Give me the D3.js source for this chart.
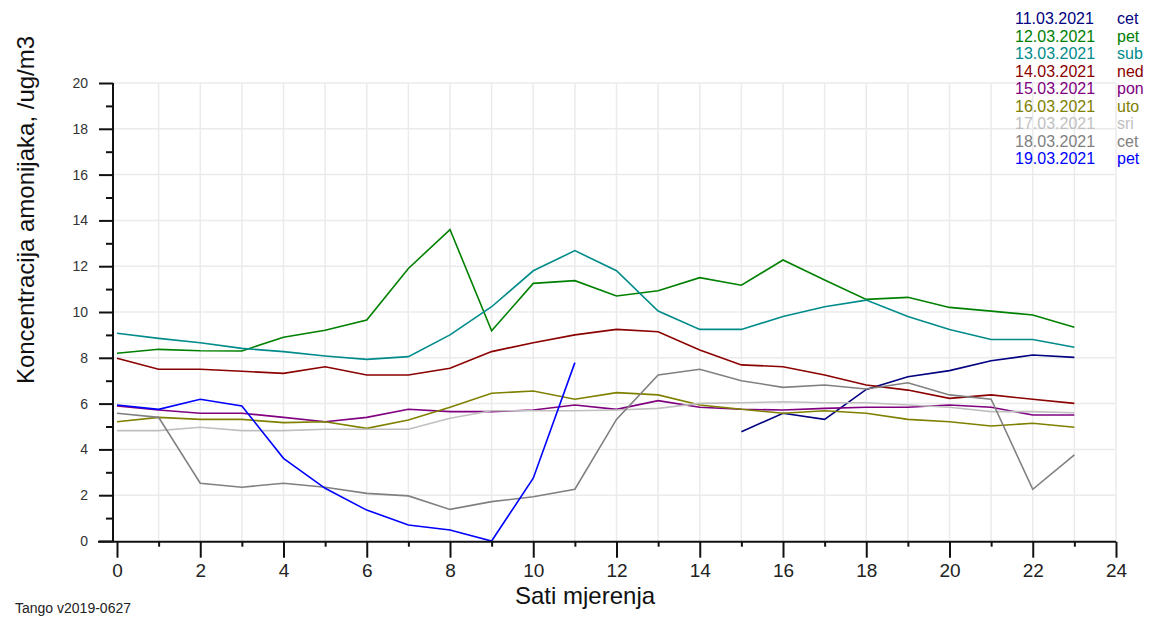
<!DOCTYPE html>
<html>
<head>
<meta charset="utf-8">
<script src="https://cdn.jsdelivr.net/npm/d3@7"></script>
<style>
  body { margin: 0; background: #fff; }
  svg { display: block; font-family: "Liberation Sans", Arial, sans-serif; }
</style>
</head>
<body>
<svg id="chart" width="1149" height="618"></svg>
<script>
// hours 0..23, concentration in ug/m3 (null = no measurement)
const hours = d3.range(0, 24)
const dates = ['11.03.2021', '12.03.2021', '13.03.2021', '14.03.2021', '15.03.2021', '16.03.2021', '17.03.2021', '18.03.2021', '19.03.2021']
const days = ['cet', 'pet', 'sub', 'ned', 'pon', 'uto', 'sri', 'cet', 'pet']
const colors = ['#000080', '#008000', '#008b8b', '#8b0000', '#800080', '#808000', '#c0c0c0', '#808080', '#0000ff']

const d1103 = [null, null, null, null, null, null, null, null, null, null, null, null, null, null, null,
  4.77, 5.58, 5.31, 6.62, 7.17, 7.44, 7.87, 8.12, 8.02]
const d1203 = [8.2, 8.37, 8.31, 8.3, 8.9, 9.2, 9.65, 11.9, 13.6, 9.18, 11.25, 11.37,
  10.7, 10.93, 11.5, 11.17, 12.27, 11.4, 10.55, 10.64, 10.2, 10.04, 9.87, 9.33]
const d1303 = [9.07, 8.85, 8.66, 8.41, 8.27, 8.08, 7.93, 8.05, 9.0, 10.23, 11.8, 12.68,
  11.8, 10.04, 9.24, 9.24, 9.8, 10.23, 10.52, 9.8, 9.24, 8.8, 8.8, 8.46]
const d1403 = [7.98, 7.5, 7.5, 7.41, 7.32, 7.61, 7.25, 7.25, 7.54, 8.27, 8.66, 9.0,
  9.24, 9.14, 8.34, 7.69, 7.61, 7.25, 6.81, 6.59, 6.23, 6.38, 6.19, 6.01]
const d1503 = [5.9, 5.72, 5.58, 5.58, 5.4, 5.21, 5.4, 5.75, 5.65, 5.65, 5.72, 5.94,
  5.75, 6.13, 5.84, 5.75, 5.72, 5.79, 5.84, 5.84, 5.94, 5.84, 5.5, 5.5]
const d1603 = [5.21, 5.4, 5.31, 5.31, 5.17, 5.21, 4.92, 5.28, 5.84, 6.45, 6.55, 6.19,
  6.48, 6.38, 5.94, 5.75, 5.58, 5.69, 5.58, 5.31, 5.21, 5.02, 5.14, 4.97]
const d1703 = [4.82, 4.82, 4.97, 4.82, 4.82, 4.88, 4.88, 4.88, 5.36, 5.69, 5.69, 5.69,
  5.72, 5.79, 6.01, 6.04, 6.08, 6.04, 6.04, 5.94, 5.84, 5.65, 5.65, 5.6]
const d1803 = [5.58, 5.4, 2.52, 2.35, 2.52, 2.35, 2.08, 1.97, 1.38, 1.72, 1.93, 2.26,
  5.31, 7.25, 7.5, 7.0, 6.71, 6.81, 6.64, 6.91, 6.38, 6.19, 2.26, 3.76]
const d1903 = [5.94, 5.75, 6.19, 5.9, 3.61, 2.3, 1.35, 0.7, 0.48, 0.0, 2.74, 7.79,
  null, null, null, null, null, null, null, null, null, null, null, null]

const series = [d1103, d1203, d1303, d1403, d1503, d1603, d1703, d1803, d1903]

const xMajor = d3.range(0, 25, 2)
const xMinor = d3.range(1, 24, 2)
const yMajor = d3.range(0, 21, 2)
const yMinor = d3.range(1, 20, 2)

const svg = d3.select('#chart')

const x = d3.scaleLinear().domain([0, 24]).range([117, 1116])
const y = d3.scaleLinear().domain([0, 20]).range([541, 83])
const axisX = 113

// grid
const grid = svg.append('g').attr('stroke', '#ebebeb').attr('stroke-width', 1.5)
grid.selectAll('line.v')
  .data(d3.range(1, 25))
  .join('line')
  .attr('x1', d => x(d)).attr('x2', d => x(d))
  .attr('y1', y(0)).attr('y2', y(20))
grid.selectAll('line.h')
  .data(yMajor.slice(1))
  .join('line')
  .attr('x1', axisX).attr('x2', x(24))
  .attr('y1', d => y(d)).attr('y2', d => y(d))

// lines
const line = d3.line()
  .defined(d => d != null)
  .x((d, i) => x(hours[i]))
  .y(d => y(d))

svg.append('g')
  .selectAll('path')
  .data(series)
  .join('path')
  .attr('d', d => line(d))
  .attr('fill', 'none')
  .attr('stroke', (d, i) => colors[i])
  .attr('stroke-width', 1.6)

// x axis
const gx = svg.append('g').attr('transform', `translate(0,${y(0) + 0.7})`)
gx.call(d3.axisBottom(x).tickValues(xMajor).tickSize(16).tickPadding(6).tickSizeOuter(0))
gx.append('g').call(d3.axisBottom(x).tickValues(xMinor).tickSize(5).tickFormat(''))
gx.selectAll('.domain').remove()
gx.selectAll('line').attr('stroke', '#111').attr('stroke-width', 2)
gx.selectAll('text').attr('font-size', 19).attr('fill', '#222').attr('font-family', '"Liberation Sans", Arial, sans-serif')
gx.append('line')
  .attr('x1', axisX - 15).attr('x2', x(24))
  .attr('stroke', '#111').attr('stroke-width', 2)

// y axis
const gy = svg.append('g').attr('transform', `translate(${axisX},0)`)
gy.call(d3.axisLeft(y).tickValues(yMajor).tickSize(14).tickPadding(11).tickSizeOuter(0))
gy.append('g').call(d3.axisLeft(y).tickValues(yMinor).tickSize(7).tickFormat(''))
gy.selectAll('.domain').remove()
gy.selectAll('line').attr('stroke', '#111').attr('stroke-width', 2)
gy.selectAll('text').attr('font-size', 14).attr('fill', '#333').attr('font-family', '"Liberation Sans", Arial, sans-serif')
gy.append('line')
  .attr('y1', y(20)).attr('y2', y(0))
  .attr('stroke', '#111').attr('stroke-width', 2)

// titles
svg.append('text')
  .attr('x', 515).attr('y', 604)
  .attr('font-size', 24).attr('fill', '#111')
  .text('Sati mjerenja')

svg.append('text')
  .attr('transform', 'translate(34,210) rotate(-90)')
  .attr('text-anchor', 'middle')
  .attr('font-size', 24).attr('fill', '#111')
  .text('Koncentracija amonijaka, /ug/m3')

svg.append('text')
  .attr('x', 15).attr('y', 613)
  .attr('font-size', 14).attr('fill', '#222')
  .text('Tango v2019-0627')

// legend
const legend = svg.append('g')
  .selectAll('g')
  .data(dates)
  .join('g')
  .attr('transform', (d, i) => `translate(1015,${24 + i * 17.5})`)
  .attr('fill', (d, i) => colors[i])
  .attr('font-size', 16)
legend.append('text').text(d => d)
legend.append('text').attr('x', 102).text((d, i) => days[i])
</script>
</body>
</html>
